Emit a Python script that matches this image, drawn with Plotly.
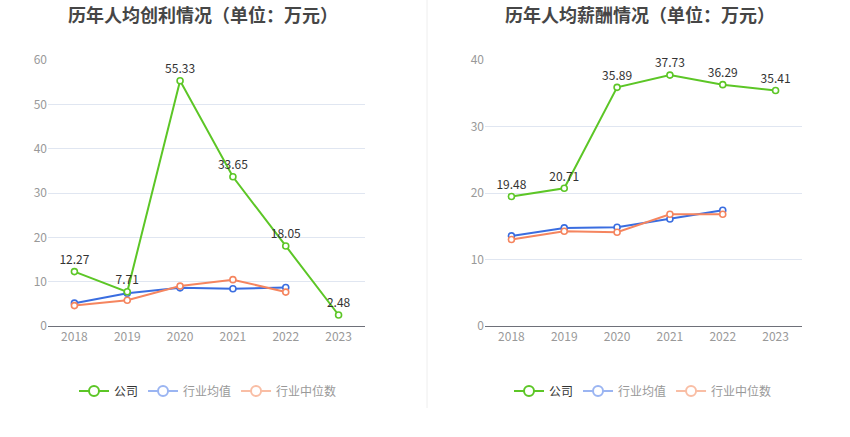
import plotly.graph_objects as go

years = ["2018", "2019", "2020", "2021", "2022", "2023"]

profit_company = [12.27, 7.71, 55.33, 33.65, 18.05, 2.48]
profit_ind_avg = [5.15, 7.4, 8.6, 8.4, 8.7]
profit_ind_med = [4.6, 5.8, 9.0, 10.45, 7.65]

salary_company = [19.48, 20.71, 35.89, 37.73, 36.29, 35.41]
salary_ind_avg = [13.55, 14.75, 14.85, 16.1, 17.4]
salary_ind_med = [13.0, 14.25, 14.1, 16.8, 16.8]

titles = ["历年人均创利情况（单位：万元）", "历年人均薪酬情况（单位：万元）"]
legend_names = ["公司", "行业均值", "行业中位数"]

GREEN = "#5cc626"
BLUE = "#3a6de0"
ORANGE = "#f5855f"
GREEN_L = "#5cc626"
BLUE_L = "#9bb5f2"
ORANGE_L = "#f9bea5"

FONT = "Noto Sans CJK SC"

fig = go.Figure()


def add_panel(xa, ya, company, avg, med, legend_id):
    fig.add_trace(go.Scatter(
        x=years[:len(avg)], y=avg, xaxis=xa, yaxis=ya, mode="lines+markers",
        line=dict(color=BLUE, width=2),
        marker=dict(symbol="circle", size=6, color="white", line=dict(color=BLUE, width=1.6)),
        showlegend=False, hoverinfo="skip"))
    fig.add_trace(go.Scatter(
        x=years[:len(med)], y=med, xaxis=xa, yaxis=ya, mode="lines+markers",
        line=dict(color=ORANGE, width=2),
        marker=dict(symbol="circle", size=6, color="white", line=dict(color=ORANGE, width=1.6)),
        showlegend=False, hoverinfo="skip"))
    fig.add_trace(go.Scatter(
        x=years, y=company, xaxis=xa, yaxis=ya, mode="lines+markers+text",
        line=dict(color=GREEN, width=2),
        marker=dict(symbol="circle", size=6, color="white", line=dict(color=GREEN, width=1.6)),
        text=[f"{v:.2f}" for v in company], textposition="top center",
        textfont=dict(family=FONT, size=12, color="#333333"),
        showlegend=False, hoverinfo="skip", cliponaxis=False))
    for name, col, tcol in zip(legend_names, [GREEN_L, BLUE_L, ORANGE_L],
                               ["#333333", "#999999", "#999999"]):
        fig.add_trace(go.Scatter(
            x=[None], y=[None], xaxis=xa, yaxis=ya, mode="lines+markers",
            name=f"<span style='color:{tcol}'>{name}</span>",
            line=dict(color=col, width=2),
            marker=dict(symbol="circle", size=10, color="white", line=dict(color=col, width=2)),
            legend=legend_id, showlegend=True))


add_panel("x", "y", profit_company, profit_ind_avg, profit_ind_med, "legend")
add_panel("x2", "y2", salary_company, salary_ind_avg, salary_ind_med, "legend2")

ydom = [0.254, 0.8627]
axis_common_x = dict(
    type="category", range=[-0.5, 5.5], showgrid=False,
    showline=True, linecolor="#6e7079", linewidth=1,
    ticks="", tickfont=dict(family=FONT, size=12, color="#999999"),
    fixedrange=True)
axis_common_y = dict(
    showgrid=True, gridcolor="#e0e6f1", gridwidth=1, zeroline=False,
    showline=False, ticks="", tickfont=dict(family=FONT, size=12, color="#999999"),
    fixedrange=True)

legend_common = dict(
    orientation="h", yanchor="middle", y=(437 - 391) / 437, xanchor="center",
    font=dict(family=FONT, size=12, color="#333333"),
    bgcolor="rgba(0,0,0,0)", itemwidth=30, tracegroupgap=0, itemclick=False)

fig.update_layout(
    width=850, height=437,
    margin=dict(l=0, r=0, t=0, b=0, autoexpand=False),
    paper_bgcolor="white", plot_bgcolor="white",
    font=dict(family=FONT),
    xaxis=dict(domain=[48 / 850, 365 / 850], anchor="y", **axis_common_x),
    yaxis=dict(domain=ydom, anchor="x", range=[0, 60], dtick=10, **axis_common_y),
    xaxis2=dict(domain=[485 / 850, 802 / 850], anchor="y2", **axis_common_x),
    yaxis2=dict(domain=ydom, anchor="x2", range=[0, 40], dtick=10, **axis_common_y),
    legend=dict(x=208 / 850, **legend_common),
    legend2=dict(x=643 / 850, **legend_common),
    annotations=[
        dict(text=f"<b>{titles[0]}</b>", x=203 / 850, y=(437 - 14) / 437, xref="paper", yref="paper",
             xanchor="center", yanchor="middle", showarrow=False,
             font=dict(family=FONT, size=18, color="#464646")),
        dict(text=f"<b>{titles[1]}</b>", x=640 / 850, y=(437 - 14) / 437, xref="paper", yref="paper",
             xanchor="center", yanchor="middle", showarrow=False,
             font=dict(family=FONT, size=18, color="#464646")),
    ],
    shapes=[
        dict(type="line", xref="paper", yref="paper", x0=427 / 850, x1=427 / 850,
             y0=(437 - 408) / 437, y1=1, line=dict(color="#eeeeee", width=1)),
    ],
)

fig.write_html("out.html", config={"displayModeBar": False},
               post_script="document.body.style.margin='0';")
